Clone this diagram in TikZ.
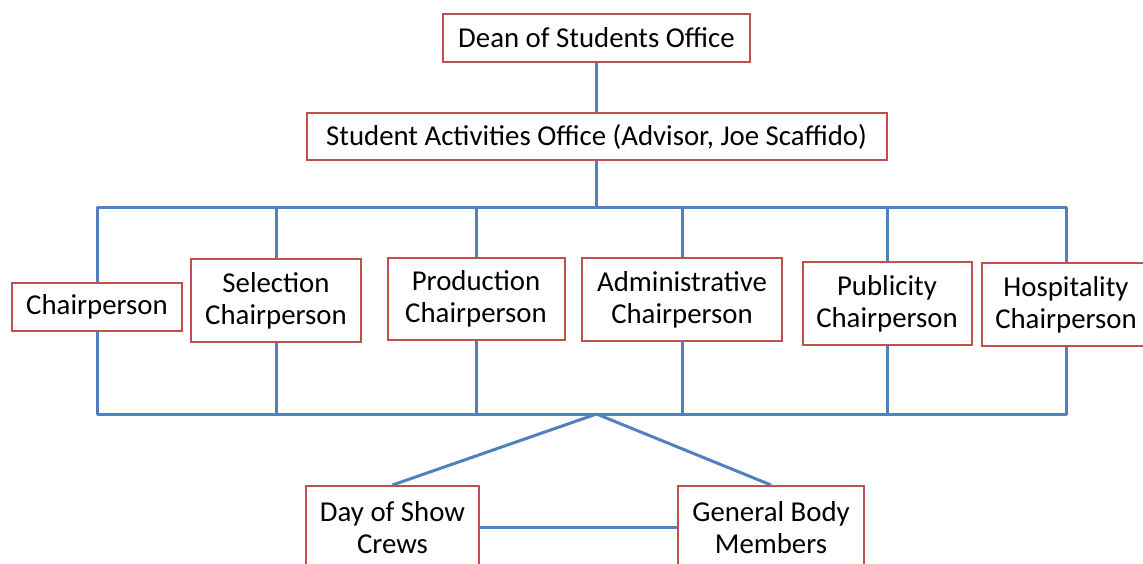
\documentclass[tikz,border=0pt]{standalone}
\usepackage{fontspec}
\setmainfont{Carlito}
\definecolor{boxred}{RGB}{192,80,77}
\definecolor{linkblue}{RGB}{79,129,189}
\begin{document}
\begin{tikzpicture}[x=0.5pt, y=-0.5pt,
  main/.style = {draw=boxred, line width=1pt, fill=white, inner sep=0pt, align=center,
                 font=\fontsize{14.4}{16}\selectfont},
  link/.style = {draw=linkblue, line width=1.5pt, line join=round}]
\useasboundingbox (0,0) rectangle (1143,563);
\clip (0,0) rectangle (1143,563);
\node[main, minimum width=153.5pt, minimum height=24pt] (1) at (596.5,38) {Dean of Students Office};
\node[main, minimum width=290pt, minimum height=23.5pt] (2) at (596.5,136.5) {Student Activities Office (Advisor, Joe Scaffido)};
\node[main, minimum width=85pt, minimum height=24pt] (3) at (97,307) {Chairperson};
\node[main, minimum width=85pt, minimum height=41.5pt] (4) at (276,300.5) {Selection\\Chairperson};
\node[main, minimum width=88.5pt, minimum height=41pt] (5) at (476,299) {Production\\Chairperson};
\node[main, minimum width=100pt, minimum height=41.5pt] (6) at (682,299.5) {Administrative\\Chairperson};
\node[main, minimum width=84.5pt, minimum height=41.5pt] (7) at (887,303.5) {Publicity\\Chairperson};
\node[main, minimum width=84pt, minimum height=41.5pt] (8) at (1066,304.5) {Hospitality\\Chairperson};
\node[main, minimum width=86.5pt, minimum height=41.5pt] (9) at (392.5,527.5) {Day of Show\\Crews};
\node[main, minimum width=93pt, minimum height=41.5pt] (10) at (771,527.5) {General Body\\Members};
\coordinate (top) at (596.5,207);
\coordinate (bot) at (596.5,414);
\draw[link] (1) -- (2);
\draw[link] (2) -- (top);
\draw[link] (3.north) -- (3.north |- top) -- (8.north |- top) -- (8.north);
\draw[link] (3.south) -- (3.south |- bot) -- (8.south |- bot) -- (8.south);
\foreach \n in {4,5,6,7} {
  \draw[link] (\n.north) -- (\n.north |- top);
  \draw[link] (\n.south) -- (\n.south |- bot);
}
\draw[link] (bot) -- (9.north);
\draw[link] (bot) -- (10.north);
\draw[link] (9) -- (10);
\end{tikzpicture}
\end{document}
